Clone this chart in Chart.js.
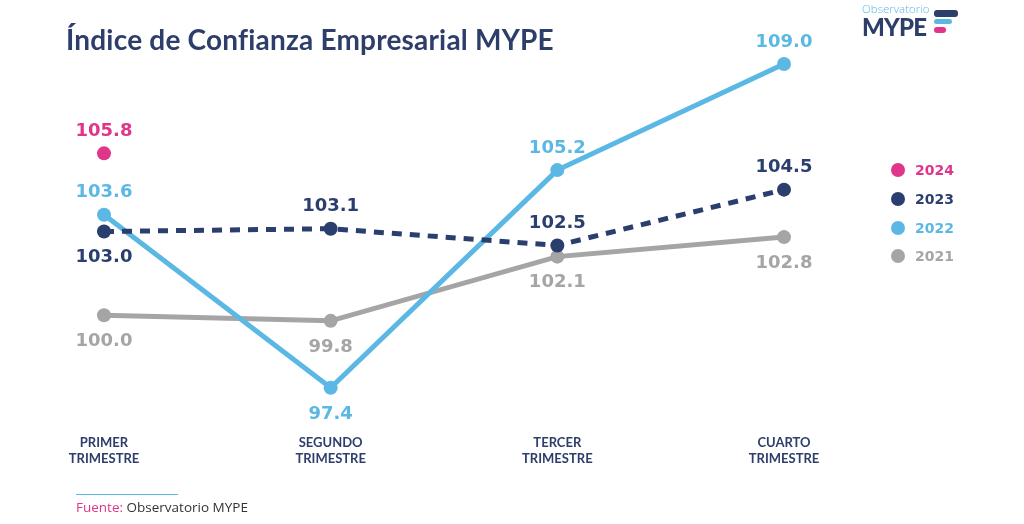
<!DOCTYPE html>
<html>
<head>
<meta charset="utf-8">
<script src="https://cdn.jsdelivr.net/npm/chart.js@4.4.1/dist/chart.umd.min.js"></script>
<style>
  html, body { margin: 0; padding: 0; background: #fff; }
  #wrap { position: relative; width: 1024px; height: 524px; overflow: hidden; font-family: 'Lato', sans-serif; }
  #chart { position: absolute; left: 0; top: 0; }
  .title { position: absolute; left: 66px; top: 22px; font-size: 28px; font-weight: 700; color: #2d3e6a; letter-spacing: 0.2px; }
  .legend { position: absolute; left: 891px; top: 156px; font-family: 'DejaVu Sans', sans-serif; }
  .legend div { height: 28.7px; font-size: 14px; font-weight: 700; display: flex; align-items: center; }
  .legend span.dot { width: 14px; height: 14px; border-radius: 50%; display: inline-block; margin-right: 10px; }
  .src-line { position: absolute; left: 76px; top: 494px; width: 102px; height: 1px; background: #5bb8e4; }
  .src { position: absolute; left: 76px; top: 498px; font-size: 13.5px; color: #333; font-family: 'Open Sans', sans-serif; }
  .src b { font-weight: 400; color: #e0358a; }
  .logo { position: absolute; left: 862px; top: 2px; }
  .logo .obs { font-size: 11.5px; color: #5bb8e4; font-weight: 300; line-height: 14px; font-family: 'Open Sans', sans-serif; }
  .logo .mype { font-size: 24px; font-weight: 900; color: #2d3e6a; line-height: 22px; letter-spacing: -0.8px; }
  .bar { position: absolute; border-radius: 3px; }
</style>
</head>
<body>
<div id="wrap">
  <canvas id="chart" width="1024" height="524"></canvas>
  <div class="title">Índice de Confianza Empresarial MYPE</div>
  <div class="logo">
    <div class="obs">Observatorio</div>
    <div class="mype">MYPE</div>
  </div>
  <div class="bar" style="left:934px;top:10px;width:24px;height:7px;background:#2d3e6a"></div>
  <div class="bar" style="left:934px;top:19px;width:18px;height:5px;background:#5bb8e4"></div>
  <div class="bar" style="left:934px;top:27px;width:12px;height:6px;background:#e0358a"></div>
  <div class="legend" id="legend"></div>
  <div class="src-line"></div>
  <div class="src"><b>Fuente:</b> Observatorio MYPE</div>
</div>
<script>
// datos
const quarters = [['PRIMER', 'TRIMESTRE'], ['SEGUNDO', 'TRIMESTRE'], ['TERCER', 'TRIMESTRE'], ['CUARTO', 'TRIMESTRE']];
const years = ['2024', '2023', '2022', '2021'];
const values2024 = [105.8, null, null, null];
const values2023 = [103.0, 103.1, 102.5, 104.5];
const values2022 = [103.6, 97.4, 105.2, 109.0];
const values2021 = [100.0, 99.8, 102.1, 102.8];

const colors = ['#e0358a', '#2a3f6e', '#5bb8e4', '#a5a5a5'];
// donde va la etiqueta: arriba (-1) o abajo (1)
const labelSide = [
    [-1, -1, -1, -1],
    [1, -1, -1, -1],
    [-1, 1, -1, -1],
    [1, 1, 1, 1]
];

const allValues = [values2024, values2023, values2022, values2021];

// leyenda html
const legendEl = document.getElementById('legend');
years.forEach((y, i) => {
    const row = document.createElement('div');
    row.style.color = colors[i];
    row.innerHTML = '<span class="dot" style="background:' + colors[i] + '"></span>' + y;
    legendEl.appendChild(row);
});

const valueLabels = {
    id: 'valueLabels',
    afterDatasetsDraw(chart) {
        const ctx = chart.ctx;
        ctx.save();
        ctx.font = 'bold 18px "DejaVu Sans"';
        ctx.textAlign = 'center';
        ctx.textBaseline = 'middle';
        chart.data.datasets.forEach((ds, i) => {
            const meta = chart.getDatasetMeta(i);
            meta.data.forEach((pt, j) => {
                const v = ds.data[j];
                if (v === null) return;
                const side = labelSide[i][j];
                const off = side < 0 ? 22 : 26;
                ctx.fillStyle = colors[i];
                ctx.fillText(v.toFixed(1), pt.x, pt.y + side * off);
            });
        });
        ctx.restore();
    }
};

new Chart(document.getElementById('chart'), {
    type: 'line',
    data: {
        labels: quarters,
        datasets: allValues.map((vals, i) => ({
            label: years[i],
            data: vals,
            borderColor: colors[i],
            backgroundColor: colors[i],
            borderWidth: 5,
            borderDash: i === 1 ? [10, 8] : [],
            pointRadius: 7,
            pointBorderWidth: 0,
            pointBackgroundColor: colors[i],
            tension: 0,
            clip: false
        }))
    },
    options: {
        responsive: false,
        animation: false,
        layout: { padding: { left: 104, right: 240, top: 64, bottom: 0 } },
        scales: {
            x: {
                offset: false,
                grid: { display: false },
                border: { display: false },
                ticks: {
                    color: '#2d3e6a',
                    font: { family: 'Lato', size: 13, weight: 'bold' },
                    padding: 28,
                    maxRotation: 0
                },
                afterFit(scale) { scale.height = 125; }
            },
            y: {
                display: false,
                min: 97,
                max: 109
            }
        },
        plugins: {
            legend: { display: false },
            tooltip: { enabled: false }
        }
    },
    plugins: [valueLabels]
});
</script>
</body>
</html>
